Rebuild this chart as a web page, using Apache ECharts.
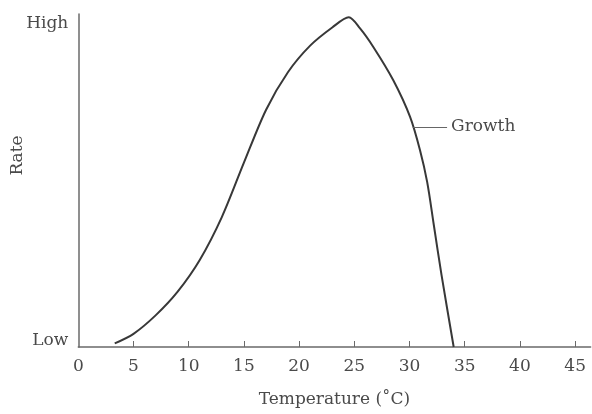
<!DOCTYPE html>
<html>
<head>
<meta charset="utf-8">
<script src="https://cdn.jsdelivr.net/npm/echarts@6/dist/echarts.min.js"></script>
<style>
  html, body { margin: 0; padding: 0; background: #fff; }
  #chart { width: 592px; height: 414px; }
</style>
</head>
<body>
<div id="chart"></div>
<script>
// Growth rate versus temperature
const temperatures = [3.3, 5, 7, 9, 11, 13, 15, 17, 19, 21, 23, 24.5,
  25.5, 26.72, 28.53, 30.05, 30.95, 31.6, 32.2, 32.9, 34.0];
const growthRates = [1.1, 4.0, 9.6, 16.8, 26.4, 39.4, 55.9, 71.9, 83.4, 91.4, 96.9, 100.0,
  96.7, 91.0, 80.9, 69.8, 59.7, 50.0, 37.0, 21.8, 0.0];

const xTickValues = [0, 5, 10, 15, 20, 25, 30, 35, 40, 45];
const yLabelValues = [2, 98];
const yLabelTexts = ['Low', 'High'];

const seriesName = 'Growth';
const growthLeader = { from: [30.3, 66.8], to: [33.4, 66.8] };

const font = 'DejaVu Serif';
const textColor = '#4a4a4a';
const axisColor = '#6a6a6a';

const chart = echarts.init(document.getElementById('chart'), null, { renderer: 'canvas' });

chart.setOption({
  animation: false,
  backgroundColor: '#ffffff',
  grid: { left: 78.3, right: 1.4, top: 14, bottom: 67, containLabel: false, outerBoundsMode: 'none' },
  xAxis: {
    type: 'value',
    min: 0,
    max: 46.4,
    name: 'Temperature (\u02DAC)',
    nameLocation: 'middle',
    nameGap: 44,
    nameMoveOverlap: false,
    nameTextStyle: { fontFamily: font, fontSize: 17, color: textColor },
    axisLine: { show: true, lineStyle: { color: axisColor, width: 1.5 } },
    axisTick: {
      show: true, inside: true, length: 6,
      customValues: xTickValues.slice(1),
      lineStyle: { color: axisColor, width: 1 }
    },
    axisLabel: {
      customValues: xTickValues,
      margin: 11,
      fontFamily: font, fontSize: 17, color: textColor
    },
    splitLine: { show: false }
  },
  yAxis: {
    type: 'value',
    min: 0,
    max: 101,
    name: 'Rate',
    nameLocation: 'middle',
    nameGap: 52,
    nameMoveOverlap: false,
    nameTextStyle: { fontFamily: font, fontSize: 17, color: textColor, padding: [0, 0, 0, 50] },
    axisLine: { show: true, lineStyle: { color: axisColor, width: 1.5 } },
    axisTick: { show: false },
    axisLabel: {
      customValues: yLabelValues,
      formatter: function (v) {
        const i = yLabelValues.indexOf(v);
        return i >= 0 ? yLabelTexts[i] : '';
      },
      margin: 10,
      fontFamily: font, fontSize: 17, color: textColor
    },
    splitLine: { show: false }
  },
  series: [{
    name: seriesName,
    type: 'line',
    data: temperatures.map((t, i) => [t, growthRates[i]]),
    showSymbol: false,
    smooth: 0.3,
    lineStyle: { color: '#383838', width: 2 },
    markLine: {
      silent: true,
      symbol: ['none', 'none'],
      lineStyle: { color: '#666', width: 1.2, type: 'solid' },
      label: {
        show: true,
        position: 'end',
        distance: 4,
        formatter: seriesName,
        fontFamily: font, fontSize: 17, color: textColor
      },
      data: [[{ coord: growthLeader.from }, { coord: growthLeader.to }]]
    }
  }]
});
</script>
</body>
</html>
